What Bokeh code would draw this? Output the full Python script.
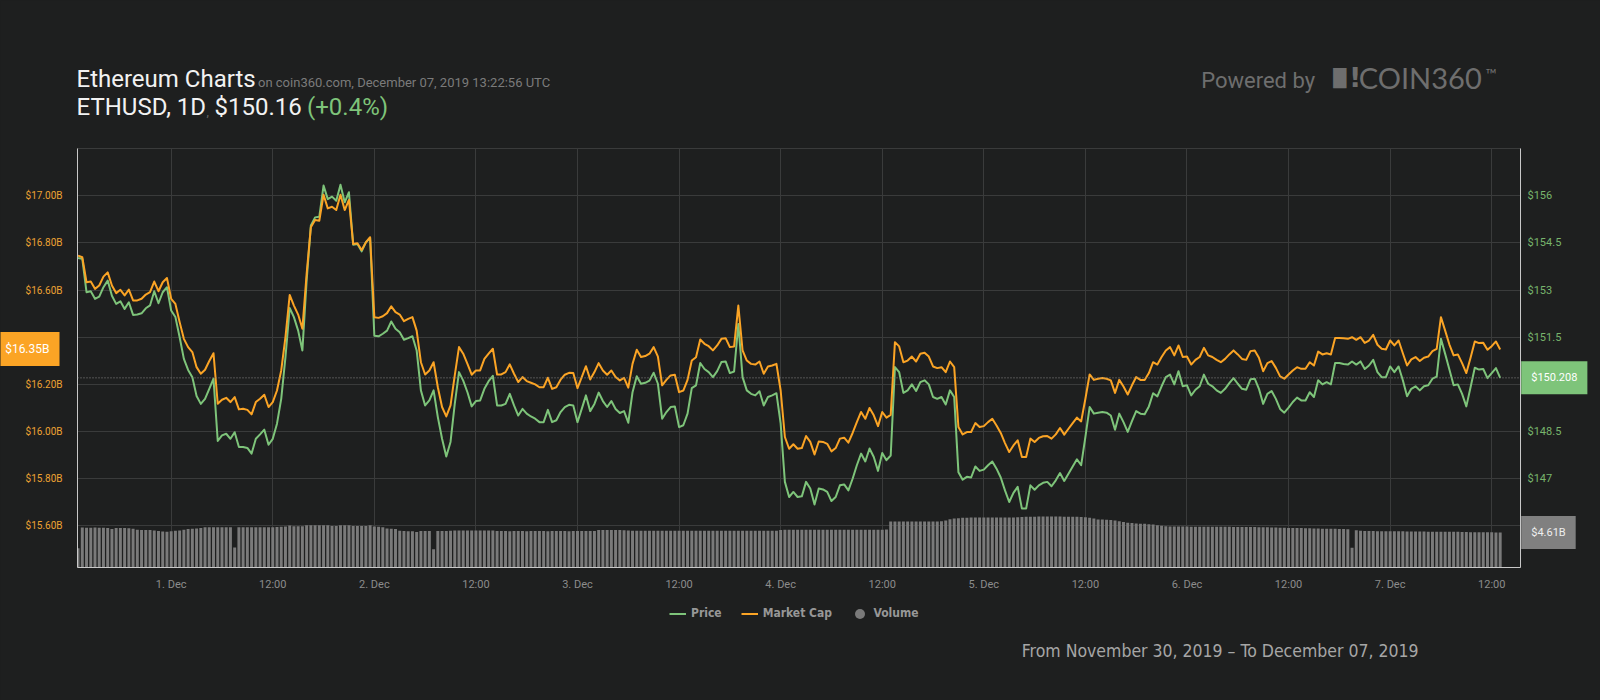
import pandas as pd
from bokeh.plotting import figure
from bokeh.layouts import column
from bokeh.models import (Range1d, LinearAxis, FixedTicker, PrintfTickFormatter,
                          Label, Span, Legend, LegendItem, ColumnDataSource)
from bokeh.embed import file_html
from bokeh.resources import INLINE

# ---------------- data ----------------
START = "2019-11-30 13:00"          # first sample, 30-minute steps

price = [
    154.02, 153.99, 152.93, 152.96, 152.72, 152.79, 153.09, 153.30, 152.82, 152.56,
    152.64, 152.40, 152.61, 152.21, 152.22, 152.26, 152.42, 152.51, 152.96, 152.58,
    152.93, 153.09, 152.35, 152.14, 151.50, 150.81, 150.46, 150.23, 149.63, 149.38,
    149.54, 149.86, 150.18, 148.20, 148.38, 148.43, 148.27, 148.48, 148.01, 148.01,
    147.98, 147.80, 148.27, 148.41, 148.56, 148.08, 148.27, 148.75, 149.54, 150.87,
    152.43, 152.14, 151.71, 151.08, 153.30, 155.05, 155.31, 155.33, 156.32, 155.89,
    155.97, 155.84, 156.35, 155.79, 156.11, 154.44, 154.46, 154.23, 154.52, 154.66,
    151.55, 151.53, 151.61, 151.71, 152.00, 151.77, 151.66, 151.42, 151.47, 151.53,
    151.08, 149.81, 149.33, 149.49, 149.81, 148.96, 148.27, 147.71, 148.17, 149.38,
    150.39, 150.12, 149.75, 149.30, 149.47, 149.49, 149.86, 150.10, 150.27, 149.33,
    149.33, 149.38, 149.70, 149.33, 149.01, 149.22, 149.07, 148.98, 148.91, 148.80,
    148.80, 149.19, 148.80, 148.86, 149.12, 149.28, 149.35, 149.33, 148.80, 149.22,
    149.65, 149.15, 149.38, 149.74, 149.47, 149.28, 149.47, 149.22, 149.09, 149.15,
    148.78, 149.75, 150.26, 150.02, 150.05, 150.12, 150.37, 150.02, 148.91,
    149.12, 149.28, 149.30, 148.64, 148.70, 149.07, 149.88, 149.97, 150.68, 150.49,
    150.39, 150.23, 150.42, 150.71, 150.73, 150.36, 150.41, 151.92, 150.23, 149.81,
    149.70, 149.65, 149.78, 149.33, 149.60, 149.65, 149.72, 148.75, 146.90, 146.42,
    146.58, 146.42, 146.44, 146.90, 146.69, 146.18, 146.69, 146.66, 146.58, 146.29,
    146.42, 146.79, 146.82, 146.63, 147.00, 147.43, 147.80, 147.55, 147.96, 147.69,
    147.25, 147.82, 147.59, 147.74, 150.55, 150.39, 149.73, 149.81, 150.00, 149.79,
    150.07, 150.13, 150.00, 149.60, 149.54, 149.60, 149.36, 149.81, 149.60,
    147.21, 146.97, 147.06, 147.04, 147.39, 147.25, 147.29, 147.43, 147.55, 147.32,
    147.04, 146.63, 146.26, 146.55, 146.74, 146.05, 146.05, 146.79, 146.65, 146.79,
    146.87, 146.90, 146.76, 146.95, 147.18, 146.93, 147.16, 147.39, 147.62, 147.43,
    148.33, 149.28, 149.07, 149.10, 149.12, 149.10, 149.01, 148.56, 149.07, 148.80,
    148.49, 148.83, 149.15, 149.07, 149.05, 149.30, 149.72, 149.62, 149.94, 150.23,
    150.31, 150.00, 150.42, 149.94, 149.97, 149.65, 149.83, 149.94, 150.31, 150.02,
    149.94, 149.81, 149.73, 149.86, 150.04, 150.20, 150.02, 149.86,
    149.83, 150.16, 150.18, 149.86, 149.38, 149.70, 149.79, 149.54, 149.22, 149.10,
    149.26, 149.44, 149.58, 149.49, 149.49, 149.75, 149.60, 150.13, 150.00, 150.07,
    150.00, 150.68, 150.68, 150.65, 150.63, 150.73, 150.63, 150.73, 150.49, 150.60,
    150.78, 150.39, 150.23, 150.23, 150.57, 150.39, 150.57, 150.13, 149.62, 149.86,
    149.94, 149.81, 149.94, 149.97, 150.18, 150.25, 151.45, 150.97, 150.47, 149.97,
    150.00, 149.70, 149.30, 149.91, 150.53, 150.47, 150.49, 150.20, 150.36, 150.52, 150.21,
]

market_cap = [  # billions USD
    16.746, 16.739, 16.633, 16.636, 16.605, 16.619, 16.657, 16.675, 16.619, 16.587,
    16.601, 16.577, 16.602, 16.556, 16.556, 16.563, 16.581, 16.591, 16.636, 16.595,
    16.633, 16.651, 16.563, 16.541, 16.464, 16.393, 16.358, 16.337, 16.273, 16.245,
    16.262, 16.299, 16.332, 16.118, 16.135, 16.143, 16.125, 16.146, 16.094, 16.097,
    16.092, 16.073, 16.125, 16.139, 16.156, 16.104, 16.125, 16.174, 16.259, 16.400,
    16.579, 16.534, 16.496, 16.436, 16.668, 16.866, 16.897, 16.894, 17.004, 16.946,
    16.953, 16.939, 17.004, 16.939, 16.982, 16.795, 16.798, 16.770, 16.802, 16.824,
    16.485, 16.482, 16.489, 16.502, 16.531, 16.506, 16.496, 16.468, 16.478, 16.485,
    16.428, 16.294, 16.242, 16.259, 16.294, 16.188, 16.104, 16.064, 16.111, 16.238,
    16.358, 16.330, 16.287, 16.241, 16.259, 16.259, 16.308, 16.330, 16.351, 16.242,
    16.242, 16.252, 16.285, 16.245, 16.210, 16.231, 16.214, 16.207, 16.200, 16.188,
    16.188, 16.228, 16.181, 16.188, 16.220, 16.241, 16.249, 16.248, 16.184, 16.231,
    16.277, 16.221, 16.252, 16.290, 16.259, 16.241, 16.259, 16.231, 16.217, 16.228,
    16.186, 16.287, 16.347, 16.316, 16.320, 16.330, 16.358, 16.318, 16.196,
    16.219, 16.238, 16.241, 16.167, 16.174, 16.219, 16.301, 16.315, 16.390, 16.372,
    16.362, 16.344, 16.365, 16.393, 16.396, 16.358, 16.361, 16.534, 16.344, 16.301,
    16.287, 16.284, 16.297, 16.245, 16.276, 16.280, 16.287, 16.174, 15.977, 15.927,
    15.946, 15.927, 15.930, 15.981, 15.956, 15.903, 15.958, 15.956, 15.948, 15.916,
    15.930, 15.970, 15.974, 15.953, 15.994, 16.040, 16.083, 16.054, 16.100, 16.069,
    16.023, 16.083, 16.059, 16.071, 16.379, 16.361, 16.294, 16.301, 16.318, 16.297,
    16.330, 16.334, 16.318, 16.276, 16.269, 16.273, 16.252, 16.297, 16.273,
    16.019, 15.988, 15.998, 15.998, 16.036, 16.019, 16.023, 16.040, 16.054, 16.026,
    15.994, 15.951, 15.913, 15.941, 15.963, 15.892, 15.892, 15.970, 15.956, 15.973,
    15.980, 15.981, 15.970, 15.988, 16.015, 15.987, 16.012, 16.036, 16.059, 16.043,
    16.139, 16.242, 16.219, 16.224, 16.227, 16.224, 16.217, 16.164, 16.219, 16.191,
    16.157, 16.196, 16.231, 16.219, 16.219, 16.248, 16.294, 16.284, 16.316, 16.344,
    16.358, 16.323, 16.365, 16.316, 16.318, 16.284, 16.304, 16.316, 16.355, 16.323,
    16.316, 16.304, 16.294, 16.308, 16.327, 16.344, 16.327, 16.308,
    16.304, 16.341, 16.344, 16.313, 16.256, 16.290, 16.299, 16.270, 16.234, 16.224,
    16.242, 16.259, 16.273, 16.266, 16.266, 16.294, 16.280, 16.339, 16.327, 16.332,
    16.327, 16.397, 16.397, 16.396, 16.393, 16.400, 16.389, 16.400, 16.376, 16.386,
    16.410, 16.368, 16.351, 16.348, 16.386, 16.365, 16.386, 16.332, 16.280, 16.306,
    16.316, 16.299, 16.313, 16.318, 16.341, 16.351, 16.485, 16.428, 16.369, 16.323,
    16.327, 16.290, 16.248, 16.313, 16.382, 16.375, 16.376, 16.347, 16.362, 16.382, 16.348,
]

volume = [  # billions USD
    2.55, 5.27, 5.25, 5.25, 5.27, 5.25, 5.25, 5.22, 5.06, 5.19,
    5.19, 5.19, 5.17, 5.12, 4.98, 4.93, 4.93, 4.93, 4.88, 4.80,
    4.74, 4.72, 4.78, 4.85, 4.88, 4.98, 5.06, 5.10, 5.14, 5.19,
    5.31, 5.31, 5.31, 5.30, 5.31, 5.31, 5.31, 2.63, 5.31, 5.31,
    5.31, 5.31, 5.30, 5.31, 5.31, 5.31, 5.31, 5.33, 5.36, 5.40,
    5.52, 5.44, 5.44, 5.44, 5.57, 5.57, 5.57, 5.57, 5.57, 5.57,
    5.48, 5.48, 5.57, 5.57, 5.57, 5.48, 5.48, 5.48, 5.48, 5.57,
    5.40, 5.36, 5.31, 5.14, 5.10, 5.06, 4.85, 4.80, 4.76, 4.76,
    4.68, 4.80, 4.80, 4.80, 2.42, 4.80, 4.80, 4.82, 4.85, 4.89,
    4.89, 4.89, 4.89, 4.89, 4.89, 4.89, 4.89, 4.89, 4.89, 4.80,
    4.80, 4.80, 4.79, 4.80, 4.80, 4.80, 4.79, 4.80, 4.80, 4.80,
    4.80, 4.79, 4.80, 4.80, 4.80, 4.80, 4.79, 4.80, 4.80, 4.80,
    4.80, 4.80, 4.80, 4.93, 4.93, 4.93, 4.93, 4.93, 4.93, 4.90,
    4.87, 4.85, 4.85, 4.85, 4.85, 4.84, 4.85, 4.85, 4.85, 4.85,
    4.85, 4.85, 4.84, 4.85, 4.85, 4.85, 4.85, 4.85, 4.84, 4.85,
    4.85, 4.85, 4.85, 4.85, 4.84, 4.85, 4.85, 4.85, 4.85, 4.85,
    4.85, 4.84, 4.85, 4.85, 4.85, 4.85, 4.95, 4.97, 4.97, 4.97,
    4.97, 4.97, 4.97, 4.97, 4.97, 4.96, 4.97, 4.97, 4.97, 4.97,
    4.97, 4.97, 4.97, 4.97, 4.97, 4.97, 4.97, 4.97, 4.97, 4.97,
    4.97, 4.99, 6.05, 6.05, 6.05, 6.05, 6.05, 6.05, 6.05, 6.05,
    6.05, 6.05, 6.05, 6.05, 6.10, 6.20, 6.35, 6.45, 6.50, 6.55,
    6.55, 6.58, 6.58, 6.58, 6.58, 6.58, 6.58, 6.58, 6.58, 6.58,
    6.58, 6.60, 6.62, 6.65, 6.68, 6.70, 6.70, 6.72, 6.72, 6.72,
    6.72, 6.72, 6.72, 6.70, 6.70, 6.70, 6.68, 6.66, 6.62, 6.55,
    6.45, 6.32, 6.32, 6.30, 6.25, 6.18, 6.10, 6.00, 5.90, 5.85,
    5.80, 5.78, 5.75, 5.70, 5.65, 5.58, 5.50, 5.45, 5.40, 5.40,
    5.40, 5.40, 5.40, 5.38, 5.38, 5.38, 5.38, 5.38, 5.36, 5.36,
    5.36, 5.36, 5.36, 5.35, 5.35, 5.35, 5.33, 5.33, 5.33, 5.30,
    5.30, 5.30, 5.28, 5.28, 5.25, 5.25, 5.22, 5.22, 5.20, 5.20,
    5.18, 5.18, 5.15, 5.15, 5.12, 5.12, 5.10, 5.10, 5.08, 5.08,
    5.05, 2.60, 4.90, 4.85, 4.82, 4.80, 4.80, 4.78, 4.78, 4.78,
    4.76, 4.76, 4.76, 4.76, 4.74, 4.74, 4.74, 4.74, 4.74, 4.72,
    4.72, 4.72, 4.72, 4.72, 4.70, 4.70, 4.70, 4.68, 4.68, 4.66,
    4.66, 4.65, 4.65, 4.64, 4.63, 4.62, 4.61,
]

CURRENT_PRICE = 150.208
CURRENT_MCAP = 16.35
CURRENT_VOL = 4.61

left_ticks = [15.6, 15.8, 16.0, 16.2, 16.4, 16.6, 16.8, 17.0]
right_ticks = [147, 148.5, 150, 151.5, 153, 154.5, 156]
x_tick_times = ["2019-12-01 00:00", "2019-12-01 12:00", "2019-12-02 00:00", "2019-12-02 12:00",
                "2019-12-03 00:00", "2019-12-03 12:00", "2019-12-04 00:00", "2019-12-04 12:00",
                "2019-12-05 00:00", "2019-12-05 12:00", "2019-12-06 00:00", "2019-12-06 12:00",
                "2019-12-07 00:00", "2019-12-07 12:00"]
x_tick_labels = ["1. Dec", "12:00", "2. Dec", "12:00", "3. Dec", "12:00", "4. Dec", "12:00",
                 "5. Dec", "12:00", "6. Dec", "12:00", "7. Dec", "12:00"]
legend_labels = ["Price", "Market Cap", "Volume"]

TITLE = "Ethereum Charts"
SUBTITLE = "on coin360.com, December 07, 2019 13:22:56 UTC"
PAIR = "ETHUSD, 1D"
LAST_PRICE = "$150.16"
CHANGE = "(+0.4%)"
DATE_SPAN = "From November 30, 2019 \u2013 To December 07, 2019"

# ---------------- layout & styles ----------------
W, H = 1600, 700
BL, BR, BT, BB = 77, 80, 148, 133          # borders around the plot frame
FH = H - BT - BB

BG = "#1e1f1f"
GRID = "#3a3b3b"
AXIS_LINE = "#c8c8c8"
GREEN = "#7ec47a"
ORANGE = "#fba425"
GREEN_LBL = "#78b46c"
ORANGE_LBL = "#eda233"
BAR = "#7a7a7a"


def ms(s):
    return float(pd.Timestamp(s).value // 10**6)


mcap_rng = (15.4237, 17.2)
price_rng = (144.178, 157.5)
vol_rng = (0.0, 55.2)

n = min(len(price), len(market_cap), len(volume))
t = pd.date_range(START, periods=n, freq="30min")
src = ColumnDataSource(dict(t=t, price=price[:n], mcap=market_cap[:n], vol=volume[:n]))

p = figure(width=W, height=H, x_axis_type="datetime",
           x_range=Range1d(ms("2019-11-30 12:56"), ms("2019-12-07 15:24")),
           y_range=Range1d(*mcap_rng),
           output_backend="svg", toolbar_location=None,
           min_border_left=BL, min_border_right=BR, min_border_top=BT, min_border_bottom=BB,
           background_fill_color=BG, border_fill_color=BG, outline_line_color=GRID)
p.frame_align = False

p.extra_y_ranges = {"price": Range1d(*price_rng), "vol": Range1d(*vol_rng)}

# axes
p.yaxis.ticker = FixedTicker(ticks=left_ticks)
p.yaxis.formatter = PrintfTickFormatter(format="$%.2fB")
p.yaxis.major_label_overrides = {16.4: ""}          # hidden under the value box
p.yaxis.major_label_text_color = ORANGE_LBL
p.yaxis.major_label_text_font_size = "10px"
p.yaxis.major_label_standoff = 15

raxis = LinearAxis(y_range_name="price", ticker=FixedTicker(ticks=right_ticks))
raxis.major_label_overrides = {v: ("" if v == 150 else f"${v:g}") for v in right_ticks}
raxis.major_label_text_color = GREEN_LBL
raxis.major_label_text_font_size = "11px"
raxis.major_label_standoff = 7
p.add_layout(raxis, "right")

p.xaxis.ticker = FixedTicker(ticks=[ms(s) for s in x_tick_times])
p.xaxis.major_label_overrides = {ms(s): lab for s, lab in zip(x_tick_times, x_tick_labels)}
p.xaxis.major_label_text_color = "#8c8c8c"
p.xaxis.major_label_text_font_size = "11px"
p.xaxis.major_label_standoff = 10

for ax in [p.xaxis[0], p.yaxis[0], raxis]:
    ax.major_tick_out = 0
    ax.major_tick_in = 0
    ax.minor_tick_out = 0
    ax.minor_tick_in = 0
    ax.axis_line_color = AXIS_LINE
    ax.axis_line_width = 1
    ax.major_label_text_font = "Roboto"

p.xgrid.grid_line_color = GRID
p.ygrid.grid_line_color = GRID

# glyphs
p.vbar(x="t", top="vol", width=1.26e6, source=src, y_range_name="vol",
       fill_color=BAR, line_color=None)
p.line("t", "price", source=src, y_range_name="price",
       line_color=GREEN, line_width=2, line_join="round")
p.line("t", "mcap", source=src, line_color=ORANGE, line_width=2, line_join="round")

p.add_layout(Span(location=CURRENT_PRICE, dimension="width", y_range_name="price",
                  line_color="#8a8a8a", line_width=1, line_dash="1 2"))

# ---------------- transparent overlay for texts outside the plot frame ----------------
def full_range(r):
    per = (r[1] - r[0]) / FH
    return Range1d(r[0] - BB * per, r[1] + BT * per)


ov = figure(width=W, height=H, x_range=Range1d(0, W), y_range=Range1d(H, 0),
            x_axis_location=None, y_axis_location=None,
            output_backend="svg", toolbar_location=None, min_border=0,
            background_fill_alpha=0, border_fill_alpha=0, outline_line_color=None)
ov.frame_align = False
ov.grid.visible = False
ov.extra_y_ranges = {"mcap": full_range(mcap_rng), "price": full_range(price_rng),
                     "vol": full_range(vol_rng)}
ov.margin = (-H, 0, 0, 0)


def lab(x, y, text, size, color, font="Roboto", style="normal", align="left",
        baseline="middle", **kw):
    ov.add_layout(Label(x=x, y=y, text=text, text_font=font, text_font_size=size,
                        text_color=color, text_font_style=style, text_align=align,
                        text_baseline=baseline, **kw))


# header (y = vertical centre of each text)
lab(76, 78.3, TITLE, "24px", "#f2f2f2")
lab(257.5, 82.1, SUBTITLE, "13px", "#7b7b7b")
lab(76, 106.6, PAIR, "24px", "#f2f2f2")
lab(206, 110.8, ",", "12px", "#666666")
lab(214, 106.6, LAST_PRICE, "24px", "#f2f2f2")
lab(306.5, 106.6, CHANGE, "24px", GREEN)

# branding
lab(1200.7, 80.0, "Powered by", "22px", "#6e6e6e")
lab(1332.7, 77.3, "\u2588", "17px", "#6e6e6e", font="DejaVu Sans")
lab(1348.5, 77.3, "!", "27px", "#6e6e6e", font="DejaVu Sans", style="bold")
lab(1358.3, 77.0, "COIN360", "29px", "#6e6e6e", font="Lato")
lab(1485, 73.5, "\u2122", "15px", "#6e6e6e", font="Lato")

# value boxes at the current values (through the same scales as the plot)
xr = W - BR + 0.7
lab(59, CURRENT_MCAP, f"${CURRENT_MCAP:.2f}B", "12px", "#ffffff", align="right",
    y_range_name="mcap", background_fill_color=ORANGE, padding=10)
lab(xr, CURRENT_PRICE, f"${CURRENT_PRICE:.3f}", "11px", "#ffffff",
    y_range_name="price", background_fill_color=GREEN, padding=10)
lab(xr, CURRENT_VOL, f"${CURRENT_VOL:.2f}B", "11px", "#eeeeee",
    y_range_name="vol", background_fill_color="#808080", padding=10)

# footer
lab(1418, 650, DATE_SPAN, "17.5px", "#a6a6a6", font="DejaVu Sans Condensed", align="right")

# legend (proxy glyphs whose single point is NaN, so nothing shows in the overlay)
nan = float("nan")
lp = ov.line(x=[nan], y=[nan], line_color=GREEN, line_width=2)
lm = ov.line(x=[nan], y=[nan], line_color=ORANGE, line_width=2)
lv = ov.scatter(x=[nan], y=[nan], marker="circle", size=10, fill_color=BAR, line_color=None)

common = dict(orientation="horizontal", label_standoff=5, spacing=19, padding=0, margin=0,
              label_text_font="DejaVu Sans Condensed", label_text_font_style="bold",
              label_text_font_size="12px", label_text_color="#979797",
              background_fill_alpha=0, border_line_color=None)
leg1 = Legend(items=[LegendItem(label=legend_labels[0], renderers=[lp]),
                     LegendItem(label=legend_labels[1], renderers=[lm])],
              location=(669, H - 621.5), glyph_width=17, glyph_height=17, label_height=17,
              **common)
leg2 = Legend(items=[LegendItem(label=legend_labels[2], renderers=[lv])],
              location=(846.5, H - 625.5), glyph_width=25, glyph_height=25, label_height=25,
              **dict(common, label_standoff=2))
ov.add_layout(leg1)
ov.add_layout(leg2)

page = column(p, ov, spacing=0)

html = file_html(page, INLINE)
html = html.replace("<head>", "<head><style>html,body{background:#1e1f1f;}</style>", 1)
open("out.html", "w").write(html)
